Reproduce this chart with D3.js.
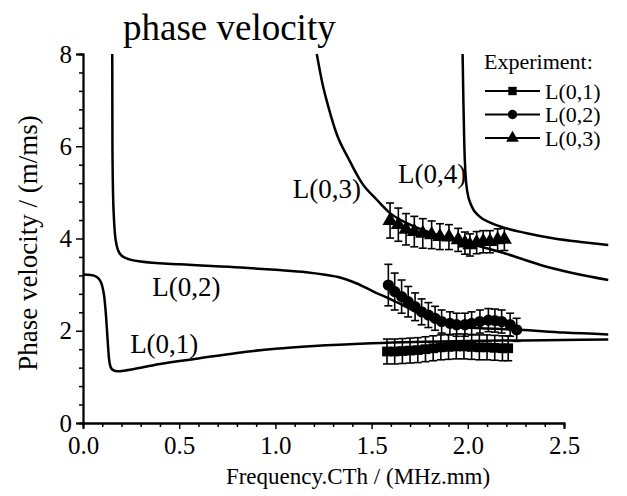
<!DOCTYPE html>
<html><head><meta charset="utf-8">
<script src="https://cdn.jsdelivr.net/npm/d3@7"></script>
<style>body{margin:0;background:#fff}svg{display:block}text{font-family:"Liberation Serif","Times New Roman",serif;fill:#000}</style>
</head><body><svg id="c" width="627" height="496"></svg>
<script>
// Theory curves [frequency, phase velocity]
const curveL01 = [[0,3.22],[0.04,3.21],[0.07,3.17],[0.09,3.08],[0.1,2.97],[0.11,2.75],[0.12,2.3],[0.128,1.8],[0.135,1.4],[0.143,1.22],[0.155,1.15],[0.18,1.12],[0.22,1.14],[0.3,1.2],[0.4,1.28],[0.6,1.4],[0.8,1.52],[1.0,1.61],[1.2,1.67],[1.5,1.73],[2.0,1.78],[2.3,1.79],[2.73,1.81]];
const curveL02 = [[0.152,8],[0.153,6],[0.156,5],[0.16,4.5],[0.166,4.1],[0.175,3.85],[0.19,3.68],[0.22,3.58],[0.3,3.5],[0.5,3.44],[0.82,3.37],[1.0,3.32],[1.16,3.27],[1.25,3.22],[1.34,3.15],[1.42,3.03],[1.51,2.85],[1.6,2.68],[1.68,2.52],[1.76,2.34],[1.84,2.2],[1.91,2.11],[2.0,2.07],[2.1,2.05],[2.27,2.02],[2.5,1.96],[2.73,1.92]];
const curveL03 = [[1.215,8],[1.245,7.35],[1.275,6.86],[1.32,6.25],[1.379,5.74],[1.45,5.2],[1.527,4.84],[1.596,4.55],[1.7,4.3],[1.871,4.04],[2.0,3.9],[2.183,3.69],[2.4,3.4],[2.73,3.1]];
const curveL04 = [[1.973,8],[1.977,7],[1.982,6],[1.988,5.4],[1.998,5.0],[2.02,4.7],[2.06,4.48],[2.12,4.34],[2.2,4.22],[2.3,4.12],[2.45,4.0],[2.6,3.92],[2.73,3.86]];

// Experimental points
const expL01x = [1.58,1.62,1.66,1.70,1.74,1.78,1.82,1.86,1.90,1.94,1.98,2.02,2.06,2.10,2.14,2.18,2.21];
const expL01y = [1.55,1.55,1.56,1.57,1.58,1.60,1.62,1.64,1.65,1.66,1.66,1.65,1.64,1.64,1.63,1.62,1.62];
const expL01e = [0.27,0.27,0.27,0.27,0.27,0.27,0.27,0.27,0.27,0.27,0.27,0.27,0.27,0.27,0.27,0.27,0.27];

const expL02x = [1.587,1.62,1.656,1.69,1.726,1.76,1.795,1.83,1.864,1.907,1.942,1.985,2.02,2.063,2.107,2.141,2.176,2.22,2.254];
const expL02y = [2.99,2.85,2.74,2.63,2.52,2.41,2.34,2.27,2.2,2.16,2.13,2.13,2.16,2.2,2.23,2.22,2.2,2.13,2.02];
const expL02e = [0.45,0.4,0.36,0.33,0.3,0.28,0.27,0.26,0.25,0.25,0.25,0.25,0.25,0.25,0.25,0.25,0.25,0.25,0.25];

const expL03x = [1.596,1.639,1.679,1.722,1.766,1.812,1.855,1.902,1.95,1.985,2.011,2.046,2.08,2.115,2.155,2.19];
const expL03y = [4.39,4.3,4.2,4.15,4.11,4.08,4.04,4.03,3.97,3.9,3.86,3.91,3.93,3.93,3.97,3.98];
const expL03e = [0.38,0.36,0.34,0.33,0.32,0.3,0.28,0.27,0.25,0.24,0.24,0.24,0.24,0.24,0.24,0.24];

const curveLabels = ["L(0,1)","L(0,2)","L(0,3)","L(0,4)"];
const legendLabels = ["L(0,1)","L(0,2)","L(0,3)"];
const xTicks = [0,0.5,1.0,1.5,2.0,2.5];
const yTicks = [0,2,4,6,8];

const svg = d3.select("#c");
const x = d3.scaleLinear().domain([0,2.5]).range([83,564]);
const y = d3.scaleLinear().domain([0,8]).range([423,54]);

// Title
svg.append("text").attr("x",123).attr("y",40).attr("font-size",37).text("phase velocity");

// Axes
const xAxis = d3.axisBottom(x).tickValues(xTicks).tickFormat(d3.format(".1f")).tickSize(6).tickPadding(4);
const gx = svg.append("g").attr("transform","translate(0,423)").call(xAxis);
gx.selectAll(".tick text").attr("font-size",25).attr("font-family","Liberation Serif").attr("dy","0.85em");
gx.append("g").call(d3.axisBottom(x).tickValues(d3.range(0,2.51,0.1).filter(v=>Math.abs(v*2-Math.round(v*2))>1e-6)).tickSize(4).tickFormat(""));
const yAxis = d3.axisLeft(y).tickValues(yTicks).tickSize(7).tickPadding(4);
const gy = svg.append("g").attr("transform","translate(83,0)").call(yAxis);
gy.selectAll(".tick text").attr("font-size",25).attr("font-family","Liberation Serif");
gy.append("g").call(d3.axisLeft(y).tickValues(d3.range(0,8.01,0.4).filter(v=>Math.abs(v/2-Math.round(v/2))>1e-6)).tickSize(4).tickFormat(""));
svg.selectAll(".domain").attr("stroke-width",1.8);
svg.selectAll(".tick line").attr("stroke-width",1.5);

// Axis titles
svg.append("text").attr("x",358).attr("y",484).attr("text-anchor","middle").attr("font-size",23).text("Frequency.CTh / (MHz.mm)");
svg.append("text").attr("transform","translate(37,243) rotate(-90)").attr("text-anchor","middle").attr("font-size",27).text("Phase velocity / (m/ms)");

// Theory curves
const line = d3.line().x(d=>x(d[0])).y(d=>y(d[1])).curve(d3.curveMonotoneX);
[curveL01,curveL02,curveL03,curveL04].forEach(c=>{
  svg.append("path").attr("d",line(c)).attr("fill","none").attr("stroke","#000").attr("stroke-width",2.5);
});

// curve labels
const labPos = [[0.245,1.52],[0.36,2.75],[1.09,4.88],[1.637,5.2]];
curveLabels.forEach((t,i)=>{
  svg.append("text").attr("x",x(labPos[i][0])).attr("y",y(labPos[i][1])).attr("font-size",27).text(t);
});

// Experimental
const sym = [d3.symbolSquare,d3.symbolCircle,d3.symbolTriangle];
const symSize = [95,100,100];
const exps = [[expL01x,expL01y,expL01e],[expL02x,expL02y,expL02e],[expL03x,expL03y,expL03e]];
exps.forEach((e,k)=>{
  const g = svg.append("g");
  const pts = e[0].map((xv,i)=>({x:xv,y:e[1][i],e:e[2][i]}));
  pts.forEach(p=>{
    g.append("line").attr("x1",x(p.x)).attr("x2",x(p.x)).attr("y1",y(p.y-p.e)).attr("y2",y(p.y+p.e)).attr("stroke","#000").attr("stroke-width",1.6);
    [p.y-p.e,p.y+p.e].forEach(v=>g.append("line").attr("x1",x(p.x)-4).attr("x2",x(p.x)+4).attr("y1",y(v)).attr("y2",y(v)).attr("stroke","#000").attr("stroke-width",1.6));
  });
  g.append("path").attr("d",d3.line().x(p=>x(p.x)).y(p=>y(p.y))(pts)).attr("fill","none").attr("stroke","#000").attr("stroke-width",2);
  pts.forEach(p=>{
    g.append("path").attr("d",d3.symbol(sym[k],symSize[k])()).attr("transform",`translate(${x(p.x)},${y(p.y)})`).attr("fill","#000");
  });
});

// Legend
svg.append("text").attr("x",484).attr("y",69).attr("font-size",22).text("Experiment:");
legendLabels.forEach((t,i)=>{
  const cy = 91 + i*23.5;
  svg.append("line").attr("x1",485).attr("x2",540).attr("y1",cy).attr("y2",cy).attr("stroke","#000").attr("stroke-width",2);
  svg.append("path").attr("d",d3.symbol(sym[i],70)()).attr("transform",`translate(512.5,${cy})`).attr("fill","#000");
  svg.append("text").attr("x",545).attr("y",cy+7.5).attr("font-size",22).text(t);
});
</script></body></html>
